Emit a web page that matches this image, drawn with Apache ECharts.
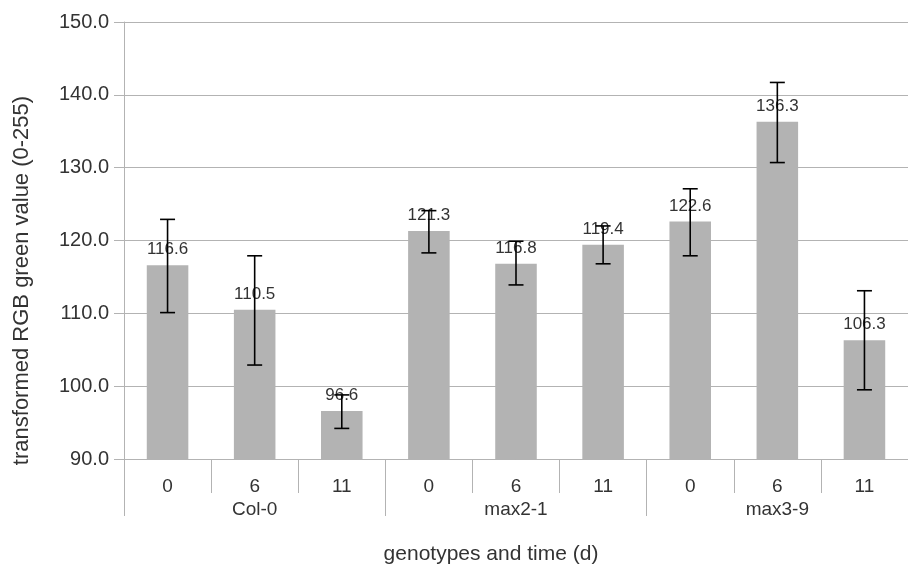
<!DOCTYPE html>
<html>
<head>
<meta charset="utf-8">
<script src="https://cdn.jsdelivr.net/npm/echarts@6/dist/echarts.min.js"></script>
<style>
  html, body { margin: 0; padding: 0; background: #fff; }
  #chart { width: 908px; height: 570px; }
</style>
</head>
<body>
<div id="chart"></div>
<script>
// Days after treatment, grouped by genotype
const days = ['0', '6', '11', '0', '6', '11', '0', '6', '11'];
const genotypes = ['Col-0', 'max2-1', 'max3-9'];

// Mean transformed green value per sample
const means = [116.6, 110.5, 96.6, 121.3, 116.8, 119.4, 122.6, 136.3, 106.3];
// Error bar extents (lower, upper)
const lows  = [110.1, 102.9, 94.2, 118.3, 113.9, 116.8, 117.9, 130.7, 99.5];
const highs = [122.9, 117.9, 98.8, 124.1, 119.9, 122.0, 127.1, 141.7, 113.1];

// y axis scale
const yMin = 90, yMax = 150, yStep = 10;

const textColor = '#333333';
const lineGray = '#b3b3b3';
const fontFamily = '"Liberation Sans", Arial, sans-serif';

const errorData = days.map((d, i) => [i, lows[i], highs[i]]);

const chart = echarts.init(document.getElementById('chart'), null, { renderer: 'canvas' });

chart.setOption({
  animation: false,
  backgroundColor: '#ffffff',
  textStyle: { fontFamily: fontFamily },
  grid: { left: 124, top: 22, height: 441, width: 792, containLabel: false },
  xAxis: [
    {
      type: 'category',
      data: days,
      position: 'bottom',
      axisLine: { show: true, lineStyle: { color: lineGray, width: 1 } },
      axisTick: { show: true, length: 34, interval: 0, lineStyle: { color: lineGray } },
      axisLabel: { interval: 0, margin: 18, fontSize: 19, color: textColor, fontFamily: fontFamily },
      name: 'genotypes and time (d)',
      nameLocation: 'middle',
      nameGap: 85,
      nameTextStyle: { fontSize: 21, color: textColor, fontFamily: fontFamily, padding: [0, 50, 0, 0] }
    },
    {
      type: 'category',
      data: genotypes,
      position: 'bottom',
      axisLine: { show: false },
      axisTick: { show: true, length: 57, interval: 0, lineStyle: { color: lineGray } },
      axisLabel: { interval: 0, margin: 41, fontSize: 19, color: textColor, fontFamily: fontFamily }
    }
  ],
  yAxis: {
    type: 'value',
    min: yMin,
    max: yMax,
    interval: yStep,
    axisLine: { show: true, lineStyle: { color: lineGray, width: 1 } },
    axisTick: { show: true, length: 10, lineStyle: { color: lineGray } },
    splitLine: { show: true, lineStyle: { color: lineGray, width: 1 } },
    axisLabel: {
      margin: 15, fontSize: 20, color: textColor, fontFamily: fontFamily,
      formatter: v => v.toFixed(1)
    },
    name: 'transformed RGB green value (0-255)',
    nameLocation: 'middle',
    nameGap: 91,
    nameTextStyle: { fontSize: 22, color: textColor, fontFamily: fontFamily, padding: [0, 80, 0, 0] }
  },
  series: [
    {
      type: 'bar',
      xAxisIndex: 0,
      data: means,
      barWidth: '47.7%',
      itemStyle: { color: '#b3b3b3' },
      label: {
        show: true,
        position: 'top',
        distance: 7,
        fontSize: 17,
        color: textColor,
        fontFamily: fontFamily,
        formatter: p => p.value.toFixed(1)
      },
      z: 2
    },
    {
      type: 'custom',
      xAxisIndex: 0,
      data: errorData,
      encode: { x: 0, y: [1, 2] },
      z: 5,
      renderItem: function (params, api) {
        const x = api.value(0);
        const lo = api.coord([x, api.value(1)]);
        const hi = api.coord([x, api.value(2)]);
        const half = 7.5;
        const style = { stroke: '#000000', lineWidth: 1.6 };
        return {
          type: 'group',
          children: [
            { type: 'line', shape: { x1: hi[0], y1: hi[1], x2: lo[0], y2: lo[1] }, style: style },
            { type: 'line', shape: { x1: hi[0] - half, y1: hi[1], x2: hi[0] + half, y2: hi[1] }, style: style },
            { type: 'line', shape: { x1: lo[0] - half, y1: lo[1], x2: lo[0] + half, y2: lo[1] }, style: style }
          ]
        };
      }
    }
  ]
});
</script>
</body>
</html>
